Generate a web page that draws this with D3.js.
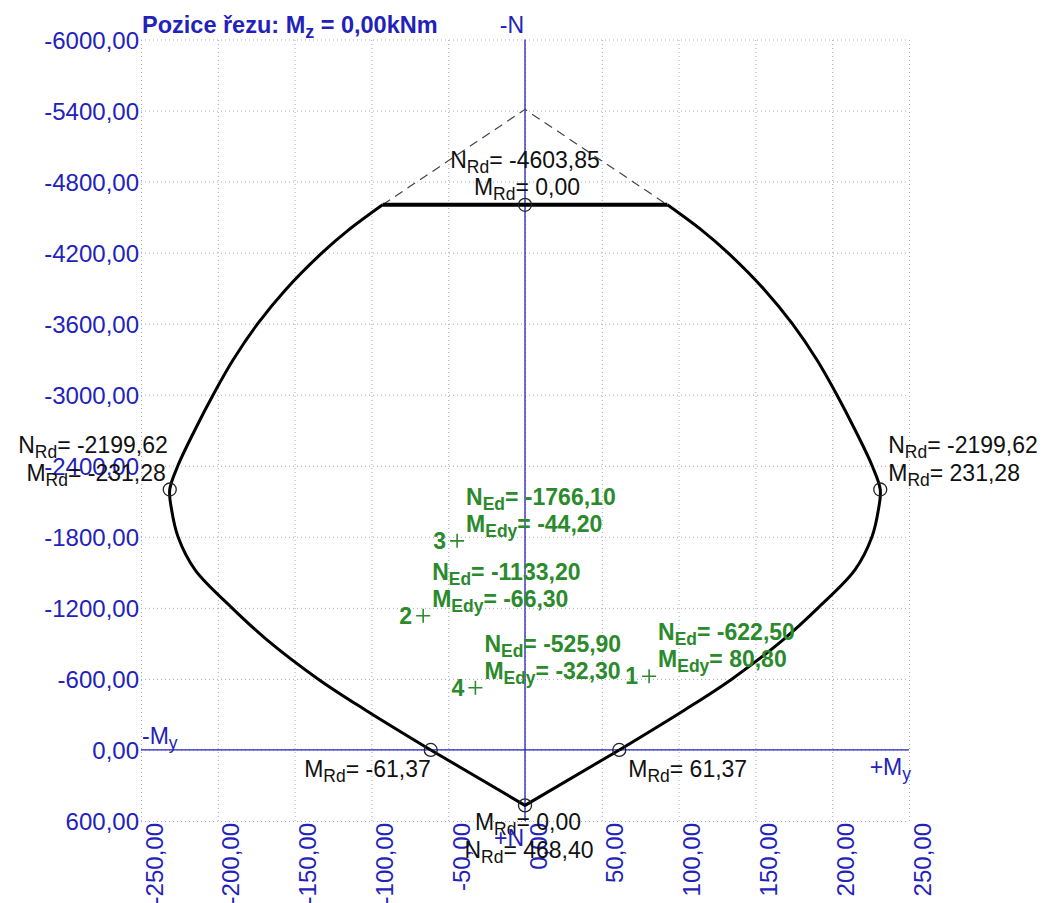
<!DOCTYPE html>
<html>
<head>
<meta charset="utf-8">
<script src="https://cdn.jsdelivr.net/npm/d3@7"></script>
<style>
  body { margin: 0; background: #fff; }
  svg { display: block; }
  text { font-family: "Liberation Sans", Arial, sans-serif; }
</style>
</head>
<body>
<svg id="chart" width="1051" height="903"></svg>
<script>
// Axis ticks
const momentTicks = [-250, -200, -150, -100, -50, 0, 50, 100, 150, 200, 250];
const forceTicks = [-6000, -5400, -4800, -4200, -3600, -3000, -2400, -1800, -1200, -600, 0, 600];

// Interaction contour M-N (kNm, kN), right branch: plateau end -> axis My
const rightBranchM = [92.7, 115, 132, 156, 174, 190, 203, 215, 226, 231.28, 230.1, 225.9, 214.8, 190.8, 168, 134.8, 104.2, 61.37];
const rightBranchN = [-4603.85, -4390, -4200, -3885, -3600, -3295, -3000, -2700, -2400, -2199.62, -2030, -1800, -1520, -1200, -930, -600, -340, 0];
// left branch: plateau end -> axis My
const leftBranchM = [-92.7, -115, -132, -156, -174, -190, -203, -215, -226, -231.28, -230.1, -225.9, -214.8, -190.8, -168, -134.8, -104.2, -61.37];
const leftBranchN = [-4603.85, -4390, -4200, -3885, -3600, -3295, -3000, -2700, -2400, -2199.62, -2030, -1800, -1520, -1200, -930, -600, -340, 0];

// Tension tip and compression cut-off
const tensionTip = [0, 468.40];
const plateauM = [-92.7, 92.7];
const plateauN = -4603.85;
const uncutApex = [0, -5410];

// Labelled resistance points
const rdM = [0, -231.28, 231.28, -61.37, 61.37, 0];
const rdN = [-4603.85, -2199.62, -2199.62, 0, 0, 468.40];

// Design load cases
const caseIds = ["1", "2", "3", "4"];
const caseM = [80.80, -66.30, -44.20, -32.30];
const caseN = [-622.50, -1133.20, -1766.10, -525.90];

const svg = d3.select("#chart");
const x = d3.scaleLinear().domain([-250, 250]).range([141, 909]);
const y = d3.scaleLinear().domain([-6000, 600]).range([39.5, 821]);

const locale = d3.formatLocale({ decimal: ",", thousands: "", grouping: [3], currency: ["", ""], minus: "-" });
const fmt = locale.format(".2f");

const BLUE = "#2222bb";
const GREEN = "#2b8a2b";
const GRID = "#a8a8c0";

// Grid + tick labels, N axis
const yAxis = svg.append("g")
  .attr("transform", `translate(${x(-250)},0)`)
  .call(d3.axisLeft(y).tickValues(forceTicks).tickSize(-(x(250) - x(-250))).tickPadding(2).tickFormat(fmt));
yAxis.select(".domain").remove();
yAxis.selectAll(".tick line").attr("stroke", GRID).attr("stroke-dasharray", "1,3");
yAxis.selectAll(".tick text")
  .attr("font-family", "'Liberation Sans', Arial, sans-serif")
  .attr("font-size", 24).attr("fill", BLUE).attr("dy", "0.36em");

// Grid + tick labels, My axis
const xAxis = svg.append("g")
  .attr("transform", `translate(0,${y(600)})`)
  .call(d3.axisBottom(x).tickValues(momentTicks).tickSize(-(y(600) - y(-6000))).tickFormat(fmt));
xAxis.select(".domain").remove();
xAxis.selectAll(".tick line").attr("stroke", GRID).attr("stroke-dasharray", "1,3");
xAxis.selectAll(".tick text")
  .attr("font-family", "'Liberation Sans', Arial, sans-serif")
  .attr("font-size", 24).attr("fill", BLUE)
  .attr("x", 0).attr("y", 0).attr("dy", null)
  .attr("text-anchor", "end")
  .attr("transform", "translate(21,2) rotate(-90)");

// Main axes
svg.append("line")
  .attr("x1", x(-250)).attr("x2", x(250)).attr("y1", y(0)).attr("y2", y(0))
  .attr("stroke", BLUE).attr("stroke-width", 1.3);
svg.append("line")
  .attr("x1", x(0)).attr("x2", x(0)).attr("y1", y(-6000)).attr("y2", y(600))
  .attr("stroke", BLUE).attr("stroke-width", 1.3);

// Uncut compression apex (dashed)
svg.append("path")
  .attr("d", d3.line()([[x(plateauM[0]), y(plateauN)], [x(uncutApex[0]), y(uncutApex[1])], [x(plateauM[1]), y(plateauN)]]))
  .attr("fill", "none").attr("stroke", "#444").attr("stroke-width", 1.2).attr("stroke-dasharray", "9,6");

// Contour branches
const branch = d3.line().curve(d3.curveCatmullRom.alpha(0.5));
const toPts = (ms, ns) => ms.map((m, i) => [x(m), y(ns[i])]);
svg.append("path").attr("d", branch(toPts(rightBranchM, rightBranchN)))
  .attr("fill", "none").attr("stroke", "#000").attr("stroke-width", 3);
svg.append("path").attr("d", branch(toPts(leftBranchM, leftBranchN)))
  .attr("fill", "none").attr("stroke", "#000").attr("stroke-width", 3);
// Tension V
svg.append("path")
  .attr("d", d3.line()([
    [x(leftBranchM[leftBranchM.length - 1]), y(leftBranchN[leftBranchN.length - 1])],
    [x(tensionTip[0]), y(tensionTip[1])],
    [x(rightBranchM[rightBranchM.length - 1]), y(rightBranchN[rightBranchN.length - 1])]
  ]))
  .attr("fill", "none").attr("stroke", "#000").attr("stroke-width", 3).attr("stroke-linejoin", "miter");
// Compression plateau
svg.append("line")
  .attr("x1", x(plateauM[0])).attr("x2", x(plateauM[1]))
  .attr("y1", y(plateauN)).attr("y2", y(plateauN))
  .attr("stroke", "#000").attr("stroke-width", 4);

// Resistance points
svg.append("g").selectAll("circle").data(rdM).join("circle")
  .attr("cx", (d) => x(d)).attr("cy", (d, i) => y(rdN[i])).attr("r", 6.5)
  .attr("fill", "none").attr("stroke", "#222").attr("stroke-width", 1.3);

// Text with a subscript part
function subText(parent, px, py, head, sub, tail, o) {
  const size = o.size || 23;
  const t = parent.append("text").attr("x", px).attr("y", py)
    .attr("text-anchor", o.anchor || "start")
    .attr("font-size", size)
    .attr("font-weight", o.weight || "normal")
    .attr("fill", o.fill || "#111");
  t.append("tspan").text(head);
  t.append("tspan").attr("font-size", size * 0.76).attr("dy", 5).text(sub);
  t.append("tspan").attr("dy", -5).text(tail);
  return t;
}

const labels = svg.append("g");
// compression cut-off
{
  const px = x(rdM[0]), py = y(rdN[0]);
  subText(labels, px, py - 37, "N", "Rd", "= " + fmt(rdN[0]), { anchor: "middle" });
  subText(labels, px + 2, py - 10, "M", "Rd", "= " + fmt(rdM[0]), { anchor: "middle" });
}
// maximum moment, left
{
  const px = x(rdM[1]), py = y(rdN[1]);
  subText(labels, px - 2, py - 36, "N", "Rd", "= " + fmt(rdN[1]), { anchor: "end" });
  subText(labels, px - 4, py - 8, "M", "Rd", "= " + fmt(rdM[1]), { anchor: "end" });
}
// maximum moment, right
{
  const px = x(rdM[2]), py = y(rdN[2]);
  subText(labels, px + 8, py - 36, "N", "Rd", "= " + fmt(rdN[2]), {});
  subText(labels, px + 8, py - 8, "M", "Rd", "= " + fmt(rdM[2]), {});
}
// pure bending
subText(labels, x(rdM[3]), y(rdN[3]) + 27, "M", "Rd", "= " + fmt(rdM[3]), { anchor: "end" });
subText(labels, x(rdM[4]) + 9, y(rdN[4]) + 27, "M", "Rd", "= " + fmt(rdM[4]), {});
// pure tension
{
  const px = x(rdM[5]), py = y(rdN[5]);
  subText(labels, px + 3, py + 25, "M", "Rd", "= " + fmt(rdM[5]), { anchor: "middle" });
  subText(labels, px + 4, py + 53, "N", "Rd", "= " + fmt(rdN[5]), { anchor: "middle" });
}

// Load cases
const cases = svg.append("g");
caseIds.forEach((id, i) => {
  const px = x(caseM[i]), py = y(caseN[i]);
  cases.append("path")
    .attr("d", `M${px - 7},${py}H${px + 7}M${px},${py - 7}V${py + 7}`)
    .attr("stroke", GREEN).attr("stroke-width", 1.6).attr("fill", "none");
  cases.append("text").attr("x", px - 11).attr("y", py + 8)
    .attr("text-anchor", "end").attr("font-size", 23).attr("font-weight", "bold")
    .attr("fill", GREEN).text(id);
  subText(cases, px + 9, py - 36, "N", "Ed", "= " + fmt(caseN[i]), { weight: "bold", fill: GREEN });
  subText(cases, px + 9, py - 9, "M", "Edy", "= " + fmt(caseM[i]), { weight: "bold", fill: GREEN });
});

// Axis names and title
const names = svg.append("g");
names.append("text").attr("x", 524).attr("y", 33).attr("text-anchor", "end")
  .attr("font-size", 23).attr("fill", BLUE).text("-N");
names.append("text").attr("x", 524).attr("y", 846).attr("text-anchor", "end")
  .attr("font-size", 23).attr("fill", BLUE).text("+N");
subText(names, 142, 744, "-M", "y", "", { fill: BLUE });
subText(names, 911, 775, "+M", "y", "", { fill: BLUE, anchor: "end" });
subText(names, 142, 33, "Pozice řezu: M", "z", " = 0,00kNm", { fill: BLUE, weight: "bold", size: 23.5 });
</script>
</body>
</html>
